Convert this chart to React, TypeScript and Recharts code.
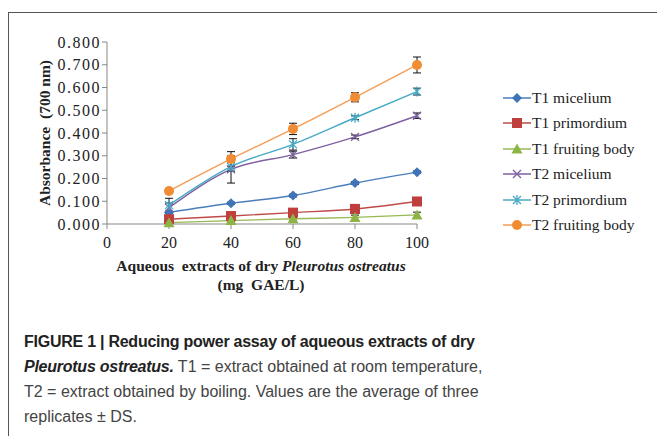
import React from 'react'
import { LineChart, Line, XAxis, YAxis, ErrorBar } from 'recharts'

const doses = [20, 40, 60, 80, 100]

const t1Micelium = [0.051, 0.091, 0.125, 0.18, 0.228]
const t1Primordium = [0.021, 0.035, 0.05, 0.066, 0.099]
const t1Fruiting = [0.006, 0.015, 0.023, 0.029, 0.04]
const t2Micelium = [0.072, 0.24, 0.305, 0.383, 0.476]
const t2Primordium = [0.083, 0.252, 0.35, 0.467, 0.582]
const t2Fruiting = [0.145, 0.286, 0.418, 0.557, 0.699]

const t1MiceliumErr = [0.005, 0.005, 0.006, 0.006, 0.005]
const t1PrimordiumErr = [0.006, 0.006, 0.006, 0.02, 0.012]
const t1FruitingErr = [0.004, 0.005, 0.006, 0.01, 0.012]
const t2MiceliumErr = [0.02, 0.06, 0.015, 0.008, 0.012]
const t2PrimordiumErr = [0.03, 0.02, 0.025, 0.008, 0.015]
const t2FruitingErr = [0.01, 0.032, 0.025, 0.02, 0.035]

const yTicks = [0, 0.1, 0.2, 0.3, 0.4, 0.5, 0.6, 0.7, 0.8]
const xTicks = [0, 20, 40, 60, 80, 100]

const data = doses.map((x, i) => ({
  x,
  t1m: t1Micelium[i],
  t1p: t1Primordium[i],
  t1f: t1Fruiting[i],
  t2m: t2Micelium[i],
  t2p: t2Primordium[i],
  t2f: t2Fruiting[i],
  t1mE: t1MiceliumErr[i],
  t1pE: t1PrimordiumErr[i],
  t1fE: t1FruitingErr[i],
  t2mE: t2MiceliumErr[i],
  t2pE: t2PrimordiumErr[i],
  t2fE: t2FruitingErr[i],
}))

type Shape = 'diamond' | 'square' | 'triangle' | 'cross' | 'star' | 'circle'

const series: { key: string; err: string; name: string; color: string; fill: string; shape: Shape }[] = [
  { key: 't1m', err: 't1mE', name: 'T1 micelium', color: '#4a7ebb', fill: '#3f74b8', shape: 'diamond' },
  { key: 't1p', err: 't1pE', name: 'T1 primordium', color: '#be4b48', fill: '#bf3f3c', shape: 'square' },
  { key: 't1f', err: 't1fE', name: 'T1 fruiting body', color: '#98b954', fill: '#8fb446', shape: 'triangle' },
  { key: 't2m', err: 't2mE', name: 'T2 micelium', color: '#7d60a0', fill: '#7d60a0', shape: 'cross' },
  { key: 't2p', err: 't2pE', name: 'T2 primordium', color: '#46aac5', fill: '#46aac5', shape: 'star' },
  { key: 't2f', err: 't2fE', name: 'T2 fruiting body', color: '#f59d56', fill: '#f08c34', shape: 'circle' },
]

function Marker({ cx, cy, shape, fill }: { cx: number; cy: number; shape: Shape; fill: string }) {
  switch (shape) {
    case 'diamond':
      return <path d={`M${cx},${cy - 5}L${cx + 5},${cy}L${cx},${cy + 5}L${cx - 5},${cy}Z`} fill={fill} />
    case 'square':
      return <rect x={cx - 5} y={cy - 5} width={10} height={10} fill={fill} />
    case 'triangle':
      return <path d={`M${cx},${cy - 5.5}L${cx + 5.5},${cy + 4.5}L${cx - 5.5},${cy + 4.5}Z`} fill={fill} />
    case 'cross':
      return (
        <path
          d={`M${cx - 4},${cy - 4}L${cx + 4},${cy + 4}M${cx - 4},${cy + 4}L${cx + 4},${cy - 4}`}
          stroke={fill}
          strokeWidth={1.3}
        />
      )
    case 'star':
      return (
        <path
          d={`M${cx - 4},${cy - 4}L${cx + 4},${cy + 4}M${cx - 4},${cy + 4}L${cx + 4},${cy - 4}M${cx},${cy - 5}L${cx},${cy + 5}`}
          stroke={fill}
          strokeWidth={1.3}
        />
      )
    default:
      return <circle cx={cx} cy={cy} r={5} fill={fill} />
  }
}

const serif = '"Liberation Serif", "Times New Roman", serif'
const sans = '"Liberation Sans", Arial, Helvetica, sans-serif'

export default function App() {
  return (
    <div
      style={{
        position: 'absolute',
        left: 0,
        top: 0,
        width: 657,
        height: 436,
        overflow: 'hidden',
        background: '#fff',
      }}
    >
      <div
        style={{
          position: 'absolute',
          left: 8,
          top: 12,
          width: 700,
          height: 500,
          borderLeft: '1px solid #555',
          borderTop: '1px solid #555',
        }}
      />

      <div style={{ position: 'absolute', left: 0, top: 0 }}>
        <LineChart
          width={657}
          height={300}
          data={data}
          margin={{ top: 42, right: 240, bottom: 46, left: 47 }}
        >
          <XAxis
            dataKey="x"
            type="number"
            domain={[0, 100]}
            ticks={xTicks}
            height={30}
            tickSize={5}
            tickMargin={8}
            axisLine={{ stroke: '#888' }}
            tickLine={{ stroke: '#888' }}
            tick={{ fontFamily: serif, fontSize: 16, fill: '#222' }}
          />
          <YAxis
            type="number"
            domain={[0, 0.8]}
            ticks={yTicks}
            width={60}
            tickSize={5}
            tickMargin={1}
            interval={0}
            tickFormatter={(v: number) => v.toFixed(3)}
            axisLine={{ stroke: '#888' }}
            tickLine={{ stroke: '#888' }}
            tick={{ fontFamily: serif, fontSize: 16, fill: '#222', letterSpacing: 1.5 }}
          />
          {series.map((s) => (
            <Line
              key={s.key}
              dataKey={s.key}
              name={s.name}
              type="monotone"
              stroke={s.color}
              strokeWidth={1.4}
              isAnimationActive={false}
              dot={(p: any) => (
                <Marker key={`${s.key}-${p.index}`} cx={p.cx} cy={p.cy} shape={s.shape} fill={s.fill} />
              )}
              activeDot={false}
            >
              <ErrorBar dataKey={s.err} width={4} stroke="#111" strokeWidth={1} direction="y" />
            </Line>
          ))}
        </LineChart>
      </div>

      {/* y axis title */}
      <div
        style={{
          position: 'absolute',
          left: 45,
          top: 133,
          transform: 'translate(-50%, -50%) rotate(-90deg)',
          whiteSpace: 'pre',
          fontFamily: serif,
          fontWeight: 'bold',
          fontSize: 15.5,
          color: '#222',
        }}
      >
        {'Absorbance  (700 nm)'}
      </div>

      {/* x axis title */}
      <div
        style={{
          position: 'absolute',
          left: 261,
          top: 256,
          transform: 'translateX(-50%)',
          textAlign: 'center',
          whiteSpace: 'pre',
          fontFamily: serif,
          fontWeight: 'bold',
          fontSize: 15.5,
          lineHeight: '19px',
          color: '#222',
        }}
      >
        {'Aqueous  extracts of dry '}
        <i>Pleurotus ostreatus</i>
        <br />
        {'(mg  GAE/L)'}
      </div>

      {/* legend */}
      <div style={{ position: 'absolute', left: 503, top: 85 }}>
        {series.map((s) => (
          <div key={s.key} style={{ display: 'flex', alignItems: 'center', height: 25.5 }}>
            <svg width={28} height={14} style={{ flex: 'none' }}>
              <line x1={0} y1={7} x2={28} y2={7} stroke={s.color} strokeWidth={1.5} />
              <Marker cx={14} cy={7} shape={s.shape} fill={s.fill} />
            </svg>
            <span style={{ fontFamily: serif, fontSize: 15.5, color: '#222', marginLeft: 1, whiteSpace: 'pre' }}>
              {s.name}
            </span>
          </div>
        ))}
      </div>

      {/* caption */}
      <div
        style={{
          position: 'absolute',
          left: 24,
          top: 329,
          fontFamily: sans,
          fontSize: 16,
          lineHeight: '25px',
          color: '#444',
          whiteSpace: 'pre',
        }}
      >
        <b style={{ color: '#222', letterSpacing: -0.25 }}>FIGURE 1 | Reducing power assay of aqueous extracts of dry</b>
        <br />
        <b style={{ color: '#222', letterSpacing: -0.25 }}>
          <i>Pleurotus ostreatus.</i>
        </b>
        {' T1 = extract obtained at room temperature,'}
        <br />
        {'T2 = extract obtained by boiling. Values are the average of three'}
        <br />
        {'replicates \u00b1 DS.'}
      </div>
    </div>
  )
}
